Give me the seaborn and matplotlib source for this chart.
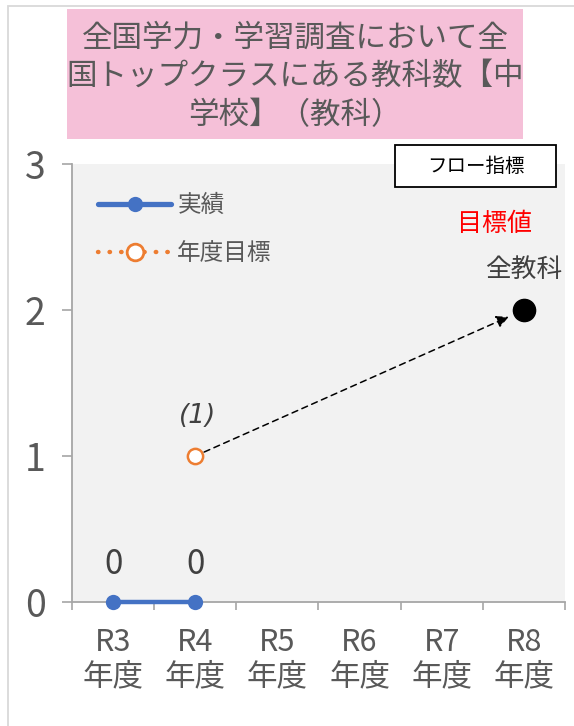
import matplotlib
matplotlib.use("Agg")
import matplotlib.pyplot as plt
import matplotlib.patches as patches
from matplotlib.lines import Line2D
import seaborn as sns
import numpy as np
import pandas as pd

# データ
categories = ["R3", "R4", "R5", "R6", "R7", "R8"]
tick_labels = ["R3\n年度", "R4\n年度", "R5\n年度", "R6\n年度", "R7\n年度", "R8\n年度"]
actual = [0, 0, np.nan, np.nan, np.nan, np.nan]
target = [np.nan, 1, np.nan, np.nan, np.nan, np.nan]
target_labels = ["", "(1)", "", "", "", ""]
goal_category = "R8"
goal_value = 2
title = "全国学力・学習調査において全\n国トップクラスにある教科数【中\n学校】（教科）"

sns.set_theme(style="white")
plt.rcParams['font.family'] = ['Noto Sans CJK JP', 'DejaVu Sans']

BLUE = "#4472C4"
ORANGE = "#ED7D31"
GRAY_TXT = "#595959"
DARK_TXT = "#404040"
AXIS = "#a6a6a6"

W, H = 574, 726
fig = plt.figure(figsize=(W / 100, H / 100), dpi=100)
ax = fig.add_axes([72 / W, 1 - 602 / H, (565 - 72) / W, (602 - 164) / H])
ax.set_facecolor("#f2f2f2")

df = pd.DataFrame({"pos": np.arange(len(categories)), "cat": categories,
                   "actual": actual, "target": target})

# 実績
sns.lineplot(data=df, x="pos", y="actual", ax=ax, color=BLUE, linewidth=3.2,
             marker="o", markersize=11, markeredgewidth=0, zorder=3, clip_on=False)
# 年度目標
sns.lineplot(data=df, x="pos", y="target", ax=ax, color=ORANGE, linewidth=2,
             linestyle=":", marker="o", markersize=11, markerfacecolor="white",
             markeredgecolor=ORANGE, markeredgewidth=1.8, zorder=3, clip_on=False)
# 目標値
goal_pos = categories.index(goal_category)
ax.plot([goal_pos], [goal_value], "o", color="black", markersize=16, zorder=4)

# 矢印
tgt_pos = int(np.nanargmax(np.nan_to_num(target, nan=-1)))
ax.annotate("", xy=(goal_pos, goal_value), xytext=(tgt_pos, target[tgt_pos]),
            arrowprops=dict(arrowstyle="-|>,head_length=0.6,head_width=0.3",
                            linestyle=(0, (4, 3)), color="black", lw=1.1,
                            shrinkA=7, shrinkB=12), zorder=3)

# データラベル
for i, v in enumerate(actual):
    if not np.isnan(v):
        ax.annotate(f"{v:.0f}", (i, v), xytext=(0, 27), textcoords="offset points",
                    ha="center", va="center", fontsize=24, color=DARK_TXT)
for i, lab in enumerate(target_labels):
    if lab:
        ax.annotate(lab, (i, target[i]), xytext=(2, 29), textcoords="offset points",
                    ha="center", va="center", fontsize=19, color=DARK_TXT,
                    style="italic", family=["DejaVu Sans"])
ax.annotate("全教科", (goal_pos, goal_value), xytext=(0, 29), textcoords="offset points",
            ha="center", va="center", fontsize=18.5, color=DARK_TXT)
ax.annotate("目標値", (goal_pos, goal_value), xytext=(-21, 62), textcoords="offset points",
            ha="center", va="center", fontsize=18, color="red")

# 軸
ax.set_xlim(-0.5, len(categories) - 0.5)
ax.set_ylim(0, 3)
ax.set_yticks([0, 1, 2, 3])
ax.set_xticks(np.arange(len(categories) + 1) - 0.5)
ax.set_xticklabels([])
ax.set_xticks(np.arange(len(categories)), minor=True)
ax.set_xticklabels(tick_labels, minor=True)
ax.tick_params(axis="x", which="major", length=6, width=1.2, color=AXIS, direction="out", bottom=True)
ax.tick_params(axis="x", which="minor", length=0, pad=18, labelsize=22,
               labelcolor=GRAY_TXT)
ax.tick_params(axis="y", length=7, width=1.2, color=AXIS, direction="out", left=True,
               pad=12, labelsize=27, labelcolor=GRAY_TXT)
for lab in ax.get_xticklabels(minor=True):
    lab.set_linespacing(1.15)
for s in ["top", "right"]:
    ax.spines[s].set_visible(False)
for s in ["left", "bottom"]:
    ax.spines[s].set_color(AXIS)
    ax.spines[s].set_linewidth(1.3)
ax.set_xlabel("")
ax.set_ylabel("")

# 凡例
handles = [
    Line2D([], [], color=BLUE, lw=3.8, marker="o", markersize=11, markeredgewidth=0,
           solid_capstyle="round"),
    Line2D([], [], color=ORANGE, lw=3.2, linestyle=(0, (0.1, 2.5)), dash_capstyle="round",
           marker="o", markersize=12, markerfacecolor="white", markeredgecolor=ORANGE,
           markeredgewidth=2),
]
ax.legend(handles, ["実績", "年度目標"], loc="upper left", bbox_to_anchor=(0.01, 0.98),
          frameon=False, fontsize=17, handlelength=3.1, labelspacing=1.05,
          handletextpad=0.25, labelcolor=GRAY_TXT)

# タイトル
fig.patches.append(patches.Rectangle((67 / W, 1 - 139 / H), (523 - 67) / W, 130 / H,
                                     transform=fig.transFigure, facecolor="#F5C0D8",
                                     edgecolor="none", zorder=1))
fig.text(295 / W, 1 - 77 / H, title, ha="center", va="center", fontsize=22,
         color=GRAY_TXT, linespacing=1.33, zorder=2)

# フロー指標
fig.patches.append(patches.Rectangle((395 / W, 1 - 187 / H), (556 - 395) / W, 42 / H,
                                     transform=fig.transFigure, facecolor="white",
                                     edgecolor="black", lw=1.3, zorder=5))
fig.text(476 / W, 1 - 166 / H, "フロー指標", ha="center", va="center", fontsize=14,
         color="black", zorder=6)

# 外枠
fig.patches.append(patches.Rectangle((8 / W, -0.1), 1.1, 1 - 6 / H + 0.1,
                                     transform=fig.transFigure, facecolor="none",
                                     edgecolor="#d9d9d9", lw=1.3, zorder=0))

fig.savefig("out.png", dpi=100)
